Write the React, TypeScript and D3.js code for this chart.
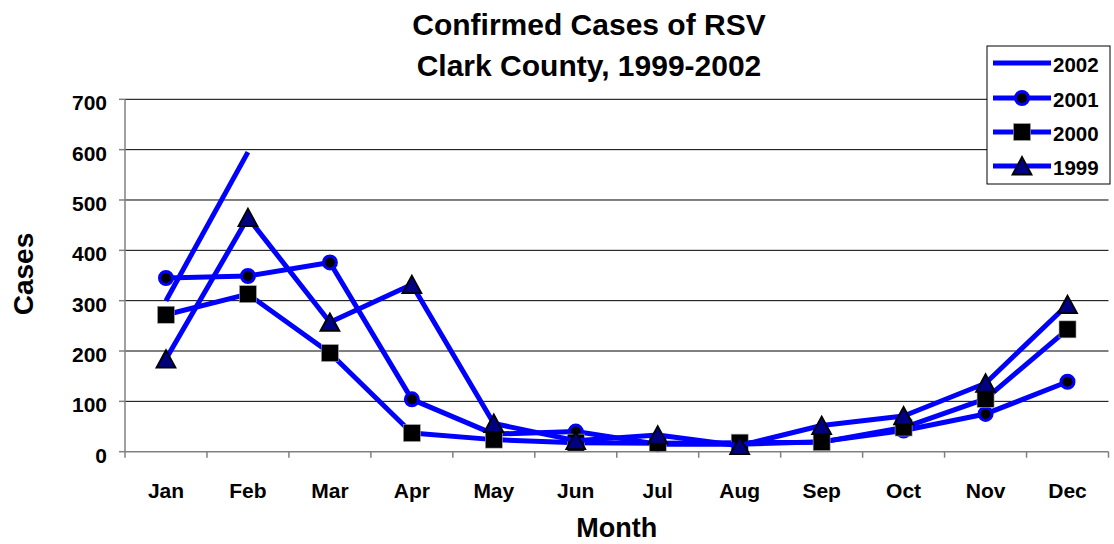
import * as d3 from "d3";
import { useEffect, useRef } from "react";

const months = ["Jan", "Feb", "Mar", "Apr", "May", "Jun", "Jul", "Aug", "Sep", "Oct", "Nov", "Dec"];
const yTicks = [0, 100, 200, 300, 400, 500, 600, 700];

const cases2002 = [300, 595];
const cases2001 = [345, 349, 376, 104, 35, 40, 15, 15, 20, 42, 75, 139];
const cases2000 = [272, 313, 196, 37, 24, 18, 17, 18, 19, 48, 105, 243];
const cases1999 = [184, 465, 257, 332, 56, 22, 33, 12, 52, 71, 136, 292];

const seriesList = [
  { name: "2002", values: cases2002, marker: "none" },
  { name: "2001", values: cases2001, marker: "circle" },
  { name: "2000", values: cases2000, marker: "square" },
  { name: "1999", values: cases1999, marker: "triangle" },
];

const FONT = "'Liberation Sans', Arial, sans-serif";
const BLUE = "#0000ff";

function drawMarker(g: any, kind: string, cx: number, cy: number) {
  if (kind === "circle") {
    g.append("circle")
      .attr("cx", cx)
      .attr("cy", cy)
      .attr("r", 6.5)
      .attr("fill", "#000")
      .attr("stroke", BLUE)
      .attr("stroke-width", 3);
  } else if (kind === "square") {
    g.append("rect")
      .attr("x", cx - 8.5)
      .attr("y", cy - 8.5)
      .attr("width", 17)
      .attr("height", 17)
      .attr("fill", "#000")
      .attr("stroke", "#aaa")
      .attr("stroke-width", 0.6);
  } else if (kind === "triangle") {
    g.append("path")
      .attr("d", `M${cx},${cy - 9}L${cx + 9.5},${cy + 8.5}L${cx - 9.5},${cy + 8.5}Z`)
      .attr("fill", "#000080")
      .attr("stroke", "#000")
      .attr("stroke-width", 1.8)
      .attr("stroke-linejoin", "miter");
  }
}

export default function App() {
  const ref = useRef<SVGSVGElement>(null);

  useEffect(() => {
    const svg = d3.select(ref.current);
    svg.selectAll("*").remove();

    const left = 125, right = 1108.5, top = 99.3, bottom = 451.7;

    const x = d3.scaleBand().domain(months).range([left, right]);
    const y = d3.scaleLinear().domain([0, 700]).range([bottom, top]);

    // gridlines
    svg
      .append("g")
      .selectAll("line")
      .data(yTicks.filter((d) => d > 0))
      .enter()
      .append("line")
      .attr("x1", left)
      .attr("x2", right)
      .attr("y1", (d) => y(d))
      .attr("y2", (d) => y(d))
      .attr("stroke", "#000")
      .attr("stroke-width", 1);

    // y axis
    const yAxis = svg.append("g");
    yAxis
      .append("line")
      .attr("x1", left)
      .attr("x2", left)
      .attr("y1", top)
      .attr("y2", bottom)
      .attr("stroke", "#808080")
      .attr("stroke-width", 1.5);
    yAxis
      .selectAll("line.tick")
      .data(yTicks)
      .enter()
      .append("line")
      .attr("class", "tick")
      .attr("x1", left - 6)
      .attr("x2", left)
      .attr("y1", (d) => y(d))
      .attr("y2", (d) => y(d))
      .attr("stroke", "#808080")
      .attr("stroke-width", 1.5);
    yAxis
      .selectAll("text")
      .data(yTicks)
      .enter()
      .append("text")
      .attr("x", 107)
      .attr("y", (d) => y(d) + 11)
      .attr("text-anchor", "end")
      .attr("font-family", FONT)
      .attr("font-weight", "bold")
      .attr("font-size", 21)
      .text((d) => d);

    // x axis
    const xAxis = svg.append("g");
    xAxis
      .append("line")
      .attr("x1", left)
      .attr("x2", right)
      .attr("y1", bottom)
      .attr("y2", bottom)
      .attr("stroke", "#808080")
      .attr("stroke-width", 1.5);
    xAxis
      .selectAll("line.tick")
      .data(d3.range(months.length + 1))
      .enter()
      .append("line")
      .attr("class", "tick")
      .attr("x1", (i) => left + i * x.step())
      .attr("x2", (i) => left + i * x.step())
      .attr("y1", bottom)
      .attr("y2", bottom + 6)
      .attr("stroke", "#808080")
      .attr("stroke-width", 1.5);
    xAxis
      .selectAll("text")
      .data(months)
      .enter()
      .append("text")
      .attr("x", (d) => x(d)! + x.bandwidth() / 2)
      .attr("y", 497.5)
      .attr("text-anchor", "middle")
      .attr("font-family", FONT)
      .attr("font-weight", "bold")
      .attr("font-size", 21)
      .text((d) => d);

    // series
    const line = d3
      .line<number>()
      .x((_, i) => x(months[i])! + x.bandwidth() / 2)
      .y((d) => y(d));

    seriesList.forEach((s) => {
      const g = svg.append("g");
      g.append("path")
        .attr("d", line(s.values))
        .attr("fill", "none")
        .attr("stroke", BLUE)
        .attr("stroke-width", 5)
        .attr("stroke-linejoin", "round");
      s.values.forEach((v, i) => {
        drawMarker(g, s.marker, x(months[i])! + x.bandwidth() / 2, y(v));
      });
    });

    // titles
    const title = svg
      .append("text")
      .attr("text-anchor", "middle")
      .attr("font-family", FONT)
      .attr("font-weight", "bold")
      .attr("font-size", 30);
    title.append("tspan").attr("x", 589).attr("y", 35).text("Confirmed Cases of RSV");
    title.append("tspan").attr("x", 589).attr("y", 76).text("Clark County, 1999-2002");

    svg
      .append("text")
      .attr("x", (left + right) / 2)
      .attr("y", 537)
      .attr("text-anchor", "middle")
      .attr("font-family", FONT)
      .attr("font-weight", "bold")
      .attr("font-size", 27)
      .text("Month");

    svg
      .append("text")
      .attr("transform", `translate(33,274) rotate(-90)`)
      .attr("text-anchor", "middle")
      .attr("font-family", FONT)
      .attr("font-weight", "bold")
      .attr("font-size", 28)
      .text("Cases");

    // legend
    const legend = svg.append("g");
    legend
      .append("rect")
      .attr("x", 987)
      .attr("y", 46)
      .attr("width", 123)
      .attr("height", 138)
      .attr("fill", "#fff")
      .attr("stroke", "#000")
      .attr("stroke-width", 1);
    const legendY = [63, 98, 132, 166];
    seriesList.forEach((s, i) => {
      const ly = legendY[i];
      legend
        .append("line")
        .attr("x1", 993)
        .attr("x2", 1051)
        .attr("y1", ly)
        .attr("y2", ly)
        .attr("stroke", BLUE)
        .attr("stroke-width", 5);
      drawMarker(legend, s.marker, 1022, ly);
      legend
        .append("text")
        .attr("x", 1053)
        .attr("y", ly + 9)
        .attr("font-family", FONT)
        .attr("font-weight", "bold")
        .attr("font-size", 20.5)
        .text(s.name);
    });
  }, []);

  return (
    <svg
      ref={ref}
      width={1114}
      height={544}
      style={{ position: "absolute", left: 0, top: 0, background: "#fff" }}
    />
  );
}
